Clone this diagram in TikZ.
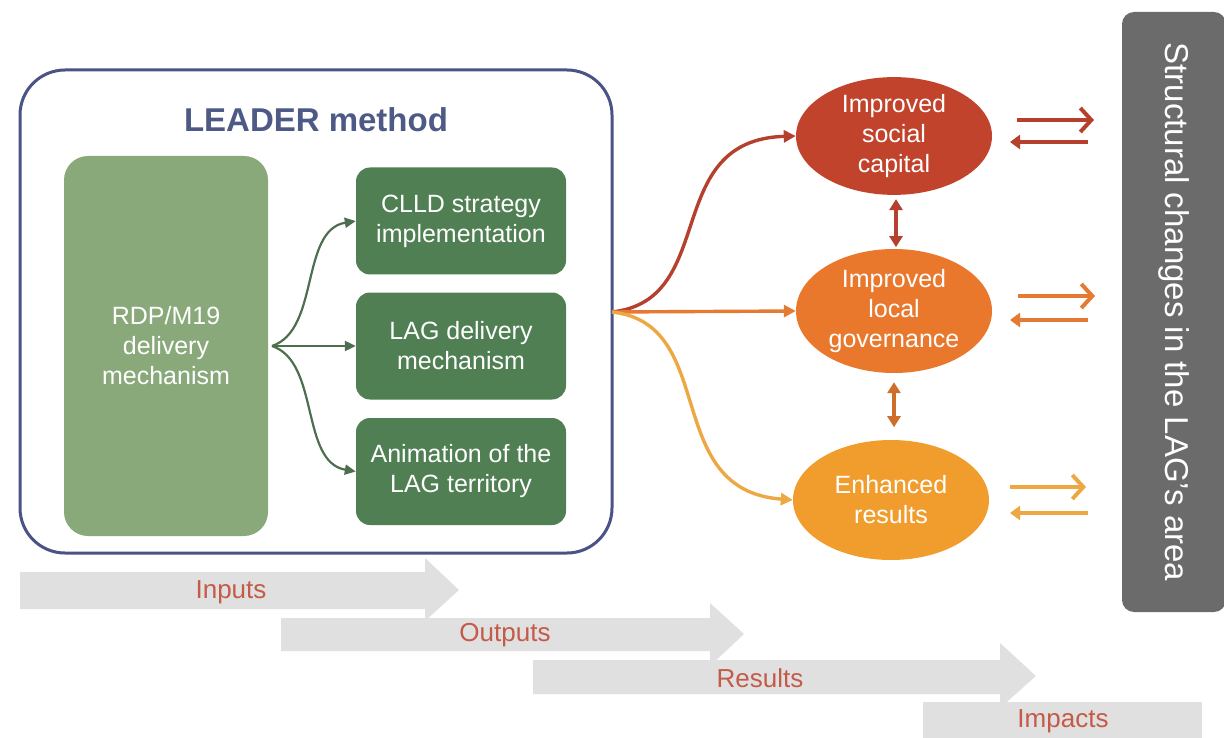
\documentclass[tikz,border=0pt]{standalone}
\usepackage{fontspec}
\setmainfont{Liberation Sans}
\usetikzlibrary{arrows.meta,shapes.geometric}
\definecolor{frameblue}{HTML}{4B5384}
\definecolor{leadertxt}{HTML}{4E5A86}
\definecolor{lightgreen}{HTML}{89A97A}
\definecolor{darkgreen}{HTML}{4F7F52}
\definecolor{arrgreen}{HTML}{4E6E50}
\definecolor{redc}{HTML}{C1432B}
\definecolor{orangec}{HTML}{E9782D}
\definecolor{yellowc}{HTML}{F19D2E}
\definecolor{redarr}{HTML}{B5402D}
\definecolor{orangearr}{HTML}{E57A32}
\definecolor{yellowarr}{HTML}{EDA844}
\definecolor{darkgrey}{HTML}{6B6B6B}
\definecolor{lightgrey}{HTML}{E0E0E0}
\definecolor{labeltxt}{HTML}{C45A48}
\tikzset{
  txt/.style={font=\fontsize{25}{30}\selectfont, text=white, align=center},
  greenbox/.style={txt, fill=darkgreen, rounded corners=14pt, minimum width=210pt, minimum height=107pt, inner sep=0pt},
  oval/.style={ellipse, txt, minimum width=196pt, inner sep=0pt},
  garr/.style={draw=arrgreen, line width=2.2pt, -{Triangle[length=11pt,width=10pt]}},
  farr/.style={line width=3.4pt, -{Triangle[length=12pt,width=12pt]}},
  darr/.style={line width=3.4pt, {Triangle[length=11pt,width=13pt]}-{Triangle[length=11pt,width=13pt]}},
  rarr/.style={line width=4pt, -{Straight Barb[length=11pt,width=24pt,line width=4pt]}},
  larr/.style={line width=4pt, -{Triangle[length=10pt,width=14pt]}},
  stage/.style={fill=lightgrey},
  stagetxt/.style={font=\fontsize{26}{30}\selectfont, text=labeltxt}
}
\begin{document}
\begin{tikzpicture}[x=1pt,y=-1pt]
\useasboundingbox (0,0) rectangle (1224,738);
% bottom stage arrows
\fill[stage] (20,572) -- (425,572) -- (425,558) -- (459,590) -- (425,621) -- (425,609) -- (20,609) -- cycle;
\fill[stage] (281,618) -- (710,618) -- (710,603) -- (744,634) -- (710,666) -- (710,651) -- (281,651) -- cycle;
\fill[stage] (533,660) -- (1000,660) -- (1000,643) -- (1036,676) -- (1000,708) -- (1000,694) -- (533,694) -- cycle;
\fill[stage] (923,702) rectangle (1202,738);
\node[stagetxt] (inp) at (231,592) {Inputs};
\node[stagetxt] (outp) at (505,635) {Outputs};
\node[stagetxt] (res) at (760,678) {Results};
\node[stagetxt] (imp) at (1063,721) {Impacts};
% LEADER frame
\node[draw=frameblue, line width=3pt, rounded corners=45pt, minimum width=592pt, minimum height=483pt, inner sep=0pt] (frame) at (316,311.5) {};
\node[font=\fontsize{33}{38}\selectfont\bfseries, text=leadertxt] (title) at (316,120) {LEADER method};
\node[txt, fill=lightgreen, rounded corners=24pt, minimum width=204pt, minimum height=380pt, inner sep=0pt] (rdp) at (166,346) {RDP/M19\\delivery\\mechanism};
\node[greenbox] (clld) at (461,221) {CLLD strategy\\implementation};
\node[greenbox] (lag) at (461,346) {LAG delivery\\mechanism};
\node[greenbox] (anim) at (461,471.5) {Animation of the\\LAG territory};
\coordinate (gsrc) at (272,346);
\draw[garr] (gsrc) .. controls (320,330) and (300,230) .. (clld.west);
\draw[garr] (gsrc) -- (lag.west);
\draw[garr] (gsrc) .. controls (320,362) and (300,462) .. (anim.west);
% ellipses
\node[oval, fill=redc, minimum height=116pt] (soc) at (894,136) {Improved\\social\\capital};
\node[oval, fill=orangec, minimum height=124pt] (loc) at (894,311) {Improved\\local\\governance};
\node[oval, fill=yellowc, minimum height=120pt] (enh) at (891,500) {Enhanced\\results};
\coordinate (osrc) at (612,312);
\draw[farr, draw=redarr] (osrc) .. controls (720,300) and (660,140) .. (soc.west);
\draw[farr, draw=orangearr] (osrc) -- (loc.west);
\draw[farr, draw=yellowarr] (osrc) .. controls (720,324) and (660,490) .. (enh.west);
\draw[darr, draw=redarr] (soc.south) ++(2,4) -- ++(0,48);
\draw[darr, draw=orangearr!90!black] (loc.south) ++(0,9) -- ++(0,45);
% grey box
\node[fill=darkgrey, rounded corners=12pt, minimum width=104pt, minimum height=600pt, inner sep=0pt] (box) at (1174,312) {};
\node[rotate=-90, font=\fontsize{33}{38}\selectfont, text=white] (boxtxt) at (box.center) {Structural changes in the LAG's area};
% right arrow pairs
\coordinate (s1) at (1017,120); \coordinate (s1e) at (1094,120);
\coordinate (s2) at (1088,142); \coordinate (s2e) at (1010,142);
\draw[rarr, draw=redarr] (s1) -- (s1e);
\draw[larr, draw=redarr] (s2) -- (s2e);
\coordinate (l1) at (1018,296); \coordinate (l1e) at (1095,296);
\coordinate (l2) at (1088,320); \coordinate (l2e) at (1010,320);
\draw[rarr, draw=orangearr] (l1) -- (l1e);
\draw[larr, draw=orangearr] (l2) -- (l2e);
\coordinate (e1) at (1010,487); \coordinate (e1e) at (1086,487);
\coordinate (e2) at (1088,513); \coordinate (e2e) at (1010,513);
\draw[rarr, draw=yellowarr] (e1) -- (e1e);
\draw[larr, draw=yellowarr] (e2) -- (e2e);
\end{tikzpicture}
\end{document}
